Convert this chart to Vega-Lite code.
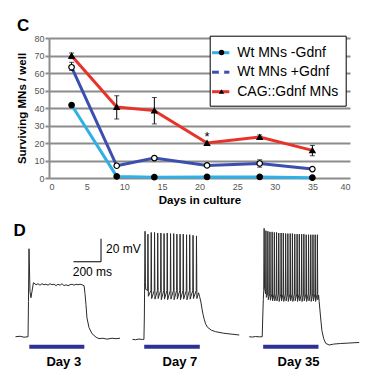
{
  "$schema": "https://vega.github.io/schema/vega-lite/v6.json",
  "padding": {"left": 13, "top": 16, "right": 5, "bottom": 5},
  "background": "white",
  "config": {"view": {"stroke": null}, "font": "Liberation Sans"},
  "datasets": {
    "surv": [
      {"series": "Wt MNs -Gdnf", "day": 3, "value": 41.7, "lo": 40.8, "hi": 42.6},
      {"series": "Wt MNs -Gdnf", "day": 9, "value": 0.9},
      {"series": "Wt MNs -Gdnf", "day": 14, "value": 0.5},
      {"series": "Wt MNs -Gdnf", "day": 21, "value": 0.6},
      {"series": "Wt MNs -Gdnf", "day": 28, "value": 0.6},
      {"series": "Wt MNs -Gdnf", "day": 35, "value": 0.2},
      {"series": "Wt MNs +Gdnf", "day": 3, "value": 63.3, "lo": 61.5, "hi": 66.1},
      {"series": "Wt MNs +Gdnf", "day": 9, "value": 7},
      {"series": "Wt MNs +Gdnf", "day": 14, "value": 11.4, "lo": 10.3, "hi": 12.5},
      {"series": "Wt MNs +Gdnf", "day": 21, "value": 7.2},
      {"series": "Wt MNs +Gdnf", "day": 28, "value": 8.3, "lo": 6.2, "hi": 10.4},
      {"series": "Wt MNs +Gdnf", "day": 35, "value": 5.1},
      {"series": "CAG::Gdnf MNs", "day": 3, "value": 69.9, "lo": 68.2, "hi": 71.4},
      {"series": "CAG::Gdnf MNs", "day": 9, "value": 40.6, "lo": 33.7, "hi": 47},
      {"series": "CAG::Gdnf MNs", "day": 14, "value": 38.5, "lo": 30.9, "hi": 46},
      {"series": "CAG::Gdnf MNs", "day": 21, "value": 20},
      {"series": "CAG::Gdnf MNs", "day": 28, "value": 23.4, "lo": 22.2, "hi": 24.6},
      {"series": "CAG::Gdnf MNs", "day": 35, "value": 15.8, "lo": 12.7, "hi": 18.6}
    ],
    "d3": [
      {"t":0,"v":-62.2},{"t":33,"v":-61.8},{"t":62,"v":-62.6},{"t":91,"v":-62.2},{"t":94,"v":-31.7},{"t":98,"v":14.3},{"t":105,"v":-23},{"t":112,"v":-28.3},{"t":130,"v":-15.2},{"t":149,"v":-17},{"t":163,"v":-16.1},{"t":178,"v":-17.4},{"t":192,"v":-16.1},{"t":207,"v":-17},{"t":221,"v":-16.5},{"t":236,"v":-17.4},{"t":250,"v":-16.1},{"t":265,"v":-17},{"t":279,"v":-16.5},{"t":294,"v":-17.8},{"t":308,"v":-16.5},{"t":323,"v":-17.4},{"t":337,"v":-16.1},{"t":352,"v":-17.8},{"t":366,"v":-17},{"t":381,"v":-17.8},{"t":395,"v":-17},{"t":410,"v":-16.5},{"t":424,"v":-17.4},{"t":439,"v":-16.5},{"t":453,"v":-17},{"t":468,"v":-16.5},{"t":482,"v":-17},{"t":497,"v":-17.8},{"t":504,"v":-24.8},{"t":511,"v":-34.3},{"t":518,"v":-45.7},{"t":533,"v":-54.3},{"t":555,"v":-59.6},{"t":584,"v":-62.6},{"t":605,"v":-63.9},{"t":634,"v":-63.5},{"t":663,"v":-64.3},{"t":700,"v":-63.5},{"t":729,"v":-63.9},{"t":758,"v":-63.5}
    ],
    "d7": [
      {"t":18,"v":-64.5},{"t":40,"v":-64.8},{"t":65,"v":-64.2},{"t":90,"v":-64.6},{"t":101,"v":-64.5},{"t":104,"v":-45},{"t":107,"v":-5},{"t":109,"v":29.5},{"t":112,"v":-15},{"t":114,"v":-21},
      {"t":128,"v":-22},{"t":130,"v":27},{"t":133,"v":-27},
      {"t":152,"v":-22},{"t":154,"v":28.5},{"t":157,"v":-29},
      {"t":176,"v":-22},{"t":178,"v":28.5},{"t":181,"v":-29.5},
      {"t":199,"v":-22},{"t":201,"v":28},{"t":204,"v":-29},
      {"t":222,"v":-22},{"t":224,"v":28},{"t":227,"v":-30},
      {"t":245,"v":-22},{"t":247,"v":27.5},{"t":250,"v":-29.5},
      {"t":268,"v":-22},{"t":270,"v":28},{"t":273,"v":-30},
      {"t":292,"v":-22},{"t":294,"v":27.5},{"t":297,"v":-29.5},
      {"t":315,"v":-22},{"t":317,"v":27.5},{"t":320,"v":-30},
      {"t":338,"v":-22},{"t":340,"v":27},{"t":343,"v":-29.5},
      {"t":361,"v":-22},{"t":363,"v":27},{"t":366,"v":-30},
      {"t":384,"v":-22},{"t":386,"v":27},{"t":389,"v":-29.5},
      {"t":408,"v":-22},{"t":410,"v":26.5},{"t":413,"v":-30},
      {"t":431,"v":-22},{"t":433,"v":26.5},{"t":436,"v":-29.5},
      {"t":455,"v":-22},{"t":457,"v":26},{"t":460,"v":-29},
      {"t":480,"v":-22},{"t":482,"v":25.5},{"t":485,"v":-29},
      {"t":497,"v":-24},{"t":504,"v":-27},{"t":514,"v":-32},{"t":522,"v":-38},{"t":530,"v":-43},{"t":538,"v":-47},{"t":548,"v":-51},{"t":562,"v":-54},{"t":590,"v":-56.5},{"t":620,"v":-57.8},{"t":680,"v":-59.2},{"t":740,"v":-60},{"t":792,"v":-60.7}
    ],
    "d35": [
      {"t":38,"v":-62.2},{"t":60,"v":-62.5},{"t":85,"v":-62},{"t":110,"v":-62.3},{"t":132,"v":-62.2},{"t":136,"v":-45},{"t":140,"v":-30},{"t":143,"v":-22},
      {"t":146,"v":32},{"t":149,"v":-20},
      {"t":157,"v":-25},{"t":159,"v":30},{"t":162,"v":-28},
      {"t":171,"v":-25},{"t":173,"v":29.5},{"t":176,"v":-30},
      {"t":186,"v":-25},{"t":188,"v":29},{"t":191,"v":-30.5},
      {"t":202,"v":-25},{"t":204,"v":29},{"t":207,"v":-31},
      {"t":218,"v":-25},{"t":220,"v":28.5},{"t":223,"v":-31},
      {"t":234,"v":-25},{"t":236,"v":28.5},{"t":239,"v":-31},
      {"t":250,"v":-25},{"t":252,"v":28},{"t":255,"v":-31.5},
      {"t":267,"v":-25},{"t":269,"v":28},{"t":272,"v":-31},
      {"t":283,"v":-25},{"t":285,"v":28},{"t":288,"v":-31.5},
      {"t":300,"v":-25},{"t":302,"v":27.5},{"t":305,"v":-31},
      {"t":316,"v":-25},{"t":318,"v":27.5},{"t":321,"v":-31.5},
      {"t":333,"v":-25},{"t":335,"v":27.5},{"t":338,"v":-31},
      {"t":349,"v":-25},{"t":351,"v":27.5},{"t":354,"v":-31.5},
      {"t":366,"v":-25},{"t":368,"v":27},{"t":371,"v":-31},
      {"t":383,"v":-25},{"t":385,"v":27},{"t":388,"v":-31.5},
      {"t":399,"v":-25},{"t":401,"v":27},{"t":404,"v":-31},
      {"t":416,"v":-25},{"t":418,"v":27},{"t":421,"v":-31.5},
      {"t":432,"v":-25},{"t":434,"v":27},{"t":437,"v":-31},
      {"t":449,"v":-25},{"t":451,"v":26.5},{"t":454,"v":-31.5},
      {"t":466,"v":-25},{"t":468,"v":26.5},{"t":471,"v":-31},
      {"t":482,"v":-25},{"t":484,"v":26.5},{"t":487,"v":-31.5},
      {"t":498,"v":-25},{"t":500,"v":26.5},{"t":503,"v":-31},
      {"t":514,"v":-25},{"t":516,"v":26.5},{"t":519,"v":-31.5},
      {"t":530,"v":-25},{"t":532,"v":26.5},{"t":535,"v":-30},
      {"t":541,"v":-26},{"t":545,"v":-31.7},{"t":555,"v":-45},{"t":565,"v":-57},{"t":578,"v":-64},{"t":593,"v":-68},{"t":618,"v":-69.4},{"t":650,"v":-68.6},{"t":700,"v":-68.1},{"t":760,"v":-67.7},{"t":835,"v":-67.2}
    ],
    "stim3": [{"start": 100, "end": 499, "level": -70.9, "label": "Day 3", "lt": 350, "lv": -84}],
    "stim7": [{"start": 103, "end": 506, "level": -70.9, "label": "Day 7", "lt": 362, "lv": -84}],
    "stim35": [{"start": 139, "end": 540, "level": -70.9, "label": "Day 35", "lt": 395, "lv": -84}],
    "bar": [{"x1": 420, "x2": 620, "y1": 3, "y2": 3}, {"x1": 620, "x2": 620, "y1": 3, "y2": 23}],
    "barlab": [{"t": 656, "v": 14.3, "label": "20 mV"}, {"t": 415, "v": -5.7, "label": "200 ms"}]
  },
  "spacing": 15.7,
  "vconcat": [
    {
      "width": 301,
      "height": 140,
      "title": {"text": "C", "anchor": "start", "frame": "bounds", "fontSize": 17, "fontWeight": "bold", "color": "black", "offset": -0.7},
      "layer": [
        {
          "data": {"name": "surv"},
          "mark": {"type": "line", "strokeWidth": 3},
          "encoding": {
            "x": {"field": "day", "type": "quantitative", "title": "Days in culture", "scale": {"domain": [0, 40], "nice": false},
              "axis": {"values": [0,5,10,15,20,25,30,35,40], "labelOverlap": false, "titleFontSize": 11.5, "titleFontWeight": "bold", "titleColor": "black", "labelFontSize": 9, "labelColor": "#555", "grid": false, "ticks": false, "domain": false, "labelPadding": 4, "titlePadding": 3}},
            "y": {"field": "value", "type": "quantitative", "title": "Surviving MNs / well", "scale": {"domain": [0, 80], "nice": false},
              "axis": {"values": [0,10,20,30,40,50,60,70,80], "labelOverlap": false, "titleFontSize": 11.5, "titleFontWeight": "bold", "titleColor": "black", "labelFontSize": 9, "labelColor": "#555", "grid": true, "gridColor": "#8c8c8c", "gridWidth": 2, "domainColor": "#8c8c8c", "domainWidth": 2, "tickColor": "#8c8c8c", "tickWidth": 2, "tickSize": 4, "labelPadding": 1, "titlePadding": 6}},
            "color": {"field": "series", "type": "nominal",
              "scale": {"domain": ["Wt MNs -Gdnf", "Wt MNs +Gdnf", "CAG::Gdnf MNs"], "range": ["#2fb0e6", "#3b4fae", "#e8332b"]},
              "legend": {"orient": "none", "legendX": 160.7, "legendY": -2.3, "title": null, "fillColor": "white", "strokeColor": "black", "padding": 6.5, "rowPadding": 1.5, "symbolType": "stroke", "symbolSize": 300, "symbolStrokeWidth": 3, "symbolOffset": -6, "labelFontSize": 14, "labelOffset": 6, "labelColor": "black", "zindex": 1}}
          }
        },
        {
          "data": {"name": "surv"},
          "mark": {"type": "rule", "color": "black", "strokeWidth": 1},
          "encoding": {
            "x": {"field": "day", "type": "quantitative", "title": "Days in culture",
              "axis": {"values": [0,5,10,15,20,25,30,35,40], "labelOverlap": false, "titleFontSize": 11.5, "titleFontWeight": "bold", "titleColor": "black", "labelFontSize": 9, "labelColor": "#555", "grid": false, "ticks": false, "domain": false, "labelPadding": 4, "titlePadding": 3}},
            "y": {"field": "lo", "type": "quantitative", "title": "Surviving MNs / well",
              "axis": {"values": [0,10,20,30,40,50,60,70,80], "labelOverlap": false, "titleFontSize": 11.5, "titleFontWeight": "bold", "titleColor": "black", "labelFontSize": 9, "labelColor": "#555", "grid": true, "gridColor": "#8c8c8c", "gridWidth": 2, "domainColor": "#8c8c8c", "domainWidth": 2, "tickColor": "#8c8c8c", "tickWidth": 2, "tickSize": 4, "labelPadding": 1, "titlePadding": 6}},
            "y2": {"field": "hi"}
          }
        },
        {
          "data": {"name": "surv"},
          "mark": {"type": "tick", "orient": "horizontal", "color": "black", "size": 5, "thickness": 1},
          "encoding": {
            "x": {"field": "day", "type": "quantitative", "title": "Days in culture",
              "axis": {"values": [0,5,10,15,20,25,30,35,40], "labelOverlap": false, "titleFontSize": 11.5, "titleFontWeight": "bold", "titleColor": "black", "labelFontSize": 9, "labelColor": "#555", "grid": false, "ticks": false, "domain": false, "labelPadding": 4, "titlePadding": 3}},
            "y": {"field": "lo", "type": "quantitative", "title": "Surviving MNs / well",
              "axis": {"values": [0,10,20,30,40,50,60,70,80], "labelOverlap": false, "titleFontSize": 11.5, "titleFontWeight": "bold", "titleColor": "black", "labelFontSize": 9, "labelColor": "#555", "grid": true, "gridColor": "#8c8c8c", "gridWidth": 2, "domainColor": "#8c8c8c", "domainWidth": 2, "tickColor": "#8c8c8c", "tickWidth": 2, "tickSize": 4, "labelPadding": 1, "titlePadding": 6}}
          }
        },
        {
          "data": {"name": "surv"},
          "mark": {"type": "tick", "orient": "horizontal", "color": "black", "size": 5, "thickness": 1},
          "encoding": {
            "x": {"field": "day", "type": "quantitative", "title": "Days in culture",
              "axis": {"values": [0,5,10,15,20,25,30,35,40], "labelOverlap": false, "titleFontSize": 11.5, "titleFontWeight": "bold", "titleColor": "black", "labelFontSize": 9, "labelColor": "#555", "grid": false, "ticks": false, "domain": false, "labelPadding": 4, "titlePadding": 3}},
            "y": {"field": "hi", "type": "quantitative", "title": "Surviving MNs / well",
              "axis": {"values": [0,10,20,30,40,50,60,70,80], "labelOverlap": false, "titleFontSize": 11.5, "titleFontWeight": "bold", "titleColor": "black", "labelFontSize": 9, "labelColor": "#555", "grid": true, "gridColor": "#8c8c8c", "gridWidth": 2, "domainColor": "#8c8c8c", "domainWidth": 2, "tickColor": "#8c8c8c", "tickWidth": 2, "tickSize": 4, "labelPadding": 1, "titlePadding": 6}}
          }
        },
        {
          "data": {"name": "surv"},
          "mark": {"type": "point", "filled": true, "stroke": "black", "strokeWidth": 1.2, "size": 30, "opacity": 1},
          "encoding": {
            "x": {"field": "day", "type": "quantitative", "title": "Days in culture",
              "axis": {"values": [0,5,10,15,20,25,30,35,40], "labelOverlap": false, "titleFontSize": 11.5, "titleFontWeight": "bold", "titleColor": "black", "labelFontSize": 9, "labelColor": "#555", "grid": false, "ticks": false, "domain": false, "labelPadding": 4, "titlePadding": 3}},
            "y": {"field": "value", "type": "quantitative", "title": "Surviving MNs / well",
              "axis": {"values": [0,10,20,30,40,50,60,70,80], "labelOverlap": false, "titleFontSize": 11.5, "titleFontWeight": "bold", "titleColor": "black", "labelFontSize": 9, "labelColor": "#555", "grid": true, "gridColor": "#8c8c8c", "gridWidth": 2, "domainColor": "#8c8c8c", "domainWidth": 2, "tickColor": "#8c8c8c", "tickWidth": 2, "tickSize": 4, "labelPadding": 1, "titlePadding": 6}},
            "shape": {"field": "series", "type": "nominal", "sort": "descending", "scale": {"range": ["circle", "circle", "triangle-up"]},
              "legend": {"orient": "none", "legendX": 165.5, "legendY": 7.5, "title": null, "padding": 0, "rowPadding": 5.5, "labelFontSize": 14, "labelExpr": "''", "symbolStrokeColor": "black", "symbolStrokeWidth": 1.5, "symbolSize": 30, "zindex": 2,
                "encode": {"symbols": {"update": {"stroke": {"value": "black"}, "strokeWidth": {"value": 1.5}}}}}},
            "fill": {"field": "series", "type": "nominal", "sort": "descending", "scale": {"range": ["black", "white", "black"]},
              "legend": {"orient": "none", "legendX": 165.5, "legendY": 7.5, "title": null, "padding": 0, "rowPadding": 5.5, "labelFontSize": 14, "labelExpr": "''", "symbolStrokeColor": "black", "symbolStrokeWidth": 1.5, "symbolSize": 30, "zindex": 2,
                "encode": {"symbols": {"update": {"stroke": {"value": "black"}, "strokeWidth": {"value": 1.5}}}}}}
          }
        },
        {
          "data": {"values": [{"day": 21, "value": 23.5, "label": "*"}]},
          "mark": {"type": "text", "fontSize": 13, "baseline": "middle", "color": "black"},
          "encoding": {
            "x": {"field": "day", "type": "quantitative", "title": "Days in culture",
              "axis": {"values": [0,5,10,15,20,25,30,35,40], "labelOverlap": false, "titleFontSize": 11.5, "titleFontWeight": "bold", "titleColor": "black", "labelFontSize": 9, "labelColor": "#555", "grid": false, "ticks": false, "domain": false, "labelPadding": 4, "titlePadding": 3}},
            "y": {"field": "value", "type": "quantitative", "title": "Surviving MNs / well",
              "axis": {"values": [0,10,20,30,40,50,60,70,80], "labelOverlap": false, "titleFontSize": 11.5, "titleFontWeight": "bold", "titleColor": "black", "labelFontSize": 9, "labelColor": "#555", "grid": true, "gridColor": "#8c8c8c", "gridWidth": 2, "domainColor": "#8c8c8c", "domainWidth": 2, "tickColor": "#8c8c8c", "tickWidth": 2, "tickSize": 4, "labelPadding": 1, "titlePadding": 6}},
            "text": {"field": "label"}
          }
        }
      ]
    },
    {
      "title": {"text": "D", "anchor": "start", "frame": "bounds", "fontSize": 17, "fontWeight": "bold", "color": "black", "offset": -14},
      "bounds": "flush",
      "spacing": 0,
      "hconcat": [
        {
          "width": 80.5,
          "height": 138,
          "layer": [
            {
              "data": {"name": "d3"},
              "mark": {"type": "line", "color": "#2a2a2a", "strokeWidth": 1},
              "encoding": {
                "x": {"field": "t", "type": "quantitative", "scale": {"domain": [242.9, 826.5], "nice": false, "zero": false}, "axis": null},
                "y": {"field": "v", "type": "quantitative", "scale": {"domain": [-90, 30], "nice": false, "zero": false}, "axis": null}
              }
            },
            {
              "data": {"name": "stim3"},
              "mark": {"type": "rule", "color": "#2e3192", "strokeWidth": 4},
              "encoding": {
                "x": {"field": "start", "type": "quantitative"},
                "x2": {"field": "end"},
                "y": {"field": "level", "type": "quantitative"}
              }
            },
            {
              "data": {"name": "stim3"},
              "mark": {"type": "text", "fontSize": 13, "fontWeight": "bold", "color": "black", "baseline": "middle"},
              "encoding": {
                "x": {"field": "lt", "type": "quantitative"},
                "y": {"field": "lv", "type": "quantitative"},
                "text": {"field": "label"}
              }
            },
            {
              "data": {"name": "bar"},
              "mark": {"type": "rule", "color": "black", "strokeWidth": 1},
              "encoding": {
                "x": {"field": "x1", "type": "quantitative"},
                "x2": {"field": "x2"},
                "y": {"field": "y1", "type": "quantitative"},
                "y2": {"field": "y2"}
              }
            },
            {
              "data": {"name": "barlab"},
              "mark": {"type": "text", "fontSize": 12, "align": "left", "baseline": "middle", "color": "black"},
              "encoding": {
                "x": {"field": "t", "type": "quantitative"},
                "y": {"field": "v", "type": "quantitative"},
                "text": {"field": "label"}
              }
            }
          ]
        },
        {
          "width": 114,
          "height": 138,
          "layer": [
            {
              "data": {"name": "d7"},
              "mark": {"type": "line", "color": "#2a2a2a", "strokeWidth": 1},
              "encoding": {
                "x": {"field": "t", "type": "quantitative", "scale": {"domain": [0, 826.5], "nice": false, "zero": false}, "axis": null},
                "y": {"field": "v", "type": "quantitative", "scale": {"domain": [-90, 30], "nice": false, "zero": false}, "axis": null}
              }
            },
            {
              "data": {"name": "stim7"},
              "mark": {"type": "rule", "color": "#2e3192", "strokeWidth": 4},
              "encoding": {
                "x": {"field": "start", "type": "quantitative"},
                "x2": {"field": "end"},
                "y": {"field": "level", "type": "quantitative"}
              }
            },
            {
              "data": {"name": "stim7"},
              "mark": {"type": "text", "fontSize": 13, "fontWeight": "bold", "color": "black", "baseline": "middle"},
              "encoding": {
                "x": {"field": "lt", "type": "quantitative"},
                "y": {"field": "lv", "type": "quantitative"},
                "text": {"field": "label"}
              }
            }
          ]
        },
        {
          "width": 114,
          "height": 138,
          "layer": [
            {
              "data": {"name": "d35"},
              "mark": {"type": "line", "color": "#2a2a2a", "strokeWidth": 1},
              "encoding": {
                "x": {"field": "t", "type": "quantitative", "scale": {"domain": [0, 826.5], "nice": false, "zero": false}, "axis": null},
                "y": {"field": "v", "type": "quantitative", "scale": {"domain": [-90, 30], "nice": false, "zero": false}, "axis": null}
              }
            },
            {
              "data": {"name": "stim35"},
              "mark": {"type": "rule", "color": "#2e3192", "strokeWidth": 4},
              "encoding": {
                "x": {"field": "start", "type": "quantitative"},
                "x2": {"field": "end"},
                "y": {"field": "level", "type": "quantitative"}
              }
            },
            {
              "data": {"name": "stim35"},
              "mark": {"type": "text", "fontSize": 13, "fontWeight": "bold", "color": "black", "baseline": "middle"},
              "encoding": {
                "x": {"field": "lt", "type": "quantitative"},
                "y": {"field": "lv", "type": "quantitative"},
                "text": {"field": "label"}
              }
            }
          ]
        }
      ]
    }
  ]
}
